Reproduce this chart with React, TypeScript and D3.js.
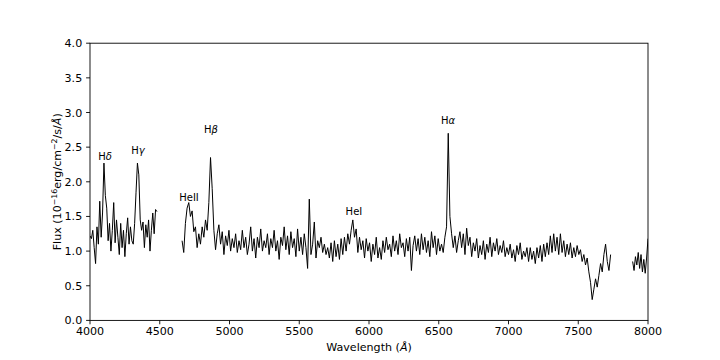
import * as d3 from 'd3'

// spectrum, three pieces with gaps between them
const blueStart = 4000
const blueStep = 10
const fluxBlue = [
  1.22, 1.18, 1.3, 1.05, 0.82, 1.35, 1.1, 1.72, 1.2, 1.55,
  2.27, 1.8, 1.62, 1.15, 1.4, 1.0, 1.3, 1.7, 1.12, 1.45,
  1.2, 0.95, 1.4, 1.05, 1.3, 0.92, 1.25, 1.48, 1.1, 1.35,
  1.15, 1.1, 1.4, 1.85, 2.27, 2.1, 1.45, 1.3, 1.42, 1.05,
  1.38, 1.2, 1.45, 1.0, 1.3, 1.55, 1.25, 1.6, 1.57,
]

const midStart = 4660
const midStep = 12
const fluxMid = [
  // 4660 - 5260
  1.15, 0.98, 1.4, 1.62, 1.7, 1.5, 1.58, 1.28, 1.35, 1.05,
  1.25, 1.1, 1.35, 1.2, 1.45, 1.3, 1.7, 2.35, 1.9, 1.3,
  1.02, 1.25, 1.38, 1.1, 1.28, 0.95, 1.22, 1.08, 1.3, 1.0,
  1.18, 1.05, 1.25, 0.98, 1.15, 1.02, 1.3, 1.05, 1.2, 0.95,
  1.1, 1.35, 1.0, 1.18, 0.9, 1.2, 1.05, 1.32, 1.0, 1.15,
  1.05,
  // 5272 - 6544
  1.25, 0.95, 1.18, 1.05, 1.3, 1.0, 1.15, 0.88, 1.2, 1.08,
  1.35, 1.02, 1.22, 0.95, 1.28, 1.05, 1.18, 0.92, 1.32, 1.0,
  1.2, 0.95, 1.25, 1.05, 0.75, 1.75, 0.95, 1.1, 1.42, 0.9,
  1.15, 1.05, 1.2, 0.98, 1.1, 0.95, 1.05, 0.9, 1.12, 0.85,
  1.15, 0.92, 1.1, 0.88, 1.18, 0.95, 1.2, 1.0, 1.25, 1.1,
  1.3, 1.45, 1.2, 1.32, 0.98, 1.2, 1.02, 1.15, 0.9, 1.18,
  1.0, 1.12, 0.85, 1.1, 0.95, 1.2, 0.9, 1.05, 0.88, 1.15,
  0.98, 1.2, 1.02, 1.1, 0.92, 1.22, 1.0, 1.15, 0.95, 1.25,
  1.05, 1.12, 0.92, 1.18, 1.0, 1.2, 0.72, 1.08, 1.22, 1.0,
  1.18, 0.95, 1.25, 1.02, 1.2, 0.98, 1.15, 0.92, 1.28, 1.05,
  1.22, 0.95, 1.18, 1.0, 1.1, 0.98, 1.2,
  // 6556 - 7732
  1.35, 2.7, 1.5, 1.25, 1.05, 1.22, 0.98, 1.15, 1.28, 1.05,
  1.25, 0.95, 1.33, 1.08, 1.2, 0.92, 1.12, 1.0, 1.18, 0.9,
  1.08, 0.95, 1.15, 0.88, 1.1, 0.98, 1.2, 0.92, 1.12, 1.0,
  1.18, 0.95, 1.08, 0.98, 1.15, 0.92, 1.05, 0.95, 1.1, 0.9,
  1.02, 0.85, 1.08, 0.95, 1.12, 0.88, 1.0, 0.92, 1.05, 0.85,
  1.05, 0.88, 1.0, 0.82, 1.05, 0.9, 1.08, 0.85, 1.1, 0.92,
  1.12, 0.95, 1.22, 0.98, 1.25, 1.0, 1.2, 0.95, 1.25, 0.98,
  1.15, 0.92, 1.1, 0.95, 1.12, 0.9, 1.05, 0.92, 1.08, 0.95,
  1.02, 0.85, 0.95, 0.8, 0.9, 0.7, 0.55, 0.3, 0.45, 0.6,
  0.48, 0.65, 0.82, 0.7, 0.95, 1.1, 0.85, 0.72, 0.95,
]

const redStart = 7890
const redStep = 10
const fluxRed = [0.85, 0.72, 0.92, 0.8, 0.98, 0.75, 0.95, 0.7, 0.88, 0.68, 0.9, 1.18]

const xTicks = [4000, 4500, 5000, 5500, 6000, 6500, 7000, 7500, 8000]
const yTicks = [0, 0.5, 1, 1.5, 2, 2.5, 3, 3.5, 4]

// line identifications: roman part, greek part, position (wavelength, flux)
const labelRoman = ['H', 'H', 'H', 'HeII', 'HeI', 'H']
const labelGreek = ['δ', 'γ', 'β', '', '', 'α']
const labelWave = [4108, 4344, 4867, 4710, 5892, 6566]
const labelFlux = [2.36, 2.46, 2.75, 1.77, 1.58, 2.88]

const W = 720
const H = 360
const left = 90
const right = 648
const top = 43.2
const bottom = 320.4
const font = 'DejaVu Sans, sans-serif'

const toPoints = (start: number, step: number, vals: number[]) =>
  vals.map((v, i) => [start + i * step, v] as [number, number])

export default function App() {
  const x = d3.scaleLinear().domain([4000, 8000]).range([left, right])
  const y = d3.scaleLinear().domain([0, 4]).range([bottom, top])

  const line = d3
    .line<[number, number]>()
    .x(d => x(d[0]))
    .y(d => y(d[1]))

  const segments = [
    toPoints(blueStart, blueStep, fluxBlue),
    toPoints(midStart, midStep, fluxMid),
    toPoints(redStart, redStep, fluxRed),
  ]

  const fmt = d3.format('.1f')
  const tick = 3.9

  return (
    <svg
      width={W}
      height={H}
      style={{ position: 'absolute', left: 0, top: 0, background: '#fff' }}
      fontFamily={font}
    >
      <defs>
        <clipPath id="plot">
          <rect x={left} y={top} width={right - left} height={bottom - top} />
        </clipPath>
      </defs>

      <g clipPath="url(#plot)">
        {segments.map((s, i) => (
          <path key={i} d={line(s) || ''} fill="none" stroke="#000" strokeWidth={1} strokeLinejoin="round" />
        ))}
      </g>

      {/* frame */}
      <rect x={left} y={top} width={right - left} height={bottom - top} fill="none" stroke="#000" strokeWidth={0.9} />

      {/* x axis */}
      {xTicks.map(t => (
        <g key={t} transform={`translate(${x(t)},${bottom})`}>
          <line y2={tick} stroke="#000" strokeWidth={0.9} />
          <text y={tick + 3.9 + 7} textAnchor="middle" fontSize={11.1} fill="#000">
            {t}
          </text>
        </g>
      ))}
      <text x={(left + right) / 2} y={351} textAnchor="middle" fontSize={11.1} fill="#000">
        Wavelength (<tspan fontStyle="italic">Å</tspan>)
      </text>

      {/* y axis */}
      {yTicks.map(t => (
        <g key={t} transform={`translate(${left},${y(t)})`}>
          <line x2={-tick} stroke="#000" strokeWidth={0.9} />
          <text x={-tick - 3.9} dy="0.36em" textAnchor="end" fontSize={11.1} fill="#000">
            {fmt(t)}
          </text>
        </g>
      ))}
      <text
        transform={`translate(61,${(top + bottom) / 2}) rotate(-90)`}
        textAnchor="middle"
        fontSize={11.1}
        fill="#000"
      >
        Flux (10
        <tspan fontSize={7.8} dy={-4.5}>−16</tspan>
        <tspan dy={4.5}>erg/cm</tspan>
        <tspan fontSize={7.8} dy={-4.5}>−2</tspan>
        <tspan dy={4.5}>/s/</tspan>
        <tspan fontStyle="italic">Å</tspan>)
      </text>

      {/* line labels */}
      {labelRoman.map((r, i) => (
        <text
          key={i}
          x={x(labelWave[i])}
          y={y(labelFlux[i])}
          dy="0.36em"
          textAnchor="middle"
          fontSize={10}
          fill="#000"
        >
          {r}
          {labelGreek[i] && <tspan fontStyle="italic">{labelGreek[i]}</tspan>}
        </text>
      ))}
    </svg>
  )
}
